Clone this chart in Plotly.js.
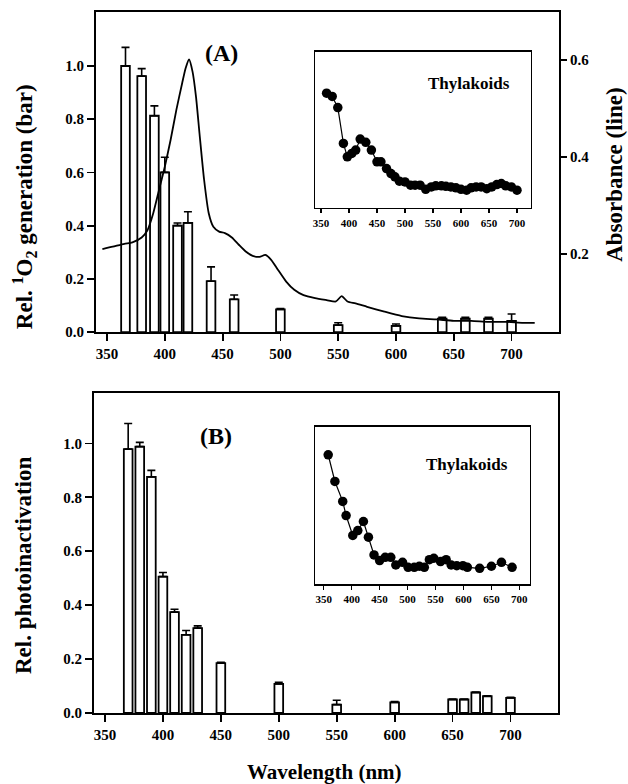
<!DOCTYPE html>
<html>
<head>
<meta charset="utf-8">
<script src="https://cdn.plot.ly/plotly-3.0.1.min.js"></script>
<style>html,body{margin:0;padding:0;background:#fff;}#chart{width:628px;height:784px;}</style>
</head>
<body>
<div id="chart"></div>
<script>
// Panel A: relative 1O2 generation (bars)
const wlA = [366, 380, 391, 400, 411, 420, 440, 460, 500, 550, 600, 640, 660, 680, 700];
const valA = [1.0, 0.962, 0.813, 0.60, 0.40, 0.41, 0.191, 0.123, 0.085, 0.026, 0.023, 0.05, 0.05, 0.05, 0.042];
const errTopA = [1.07, 0.99, 0.85, 0.657, 0.41, 0.452, 0.245, 0.139, 0.088, 0.035, 0.03, 0.055, 0.055, 0.055, 0.068];

// Panel A: absorbance spectrum (line)
const wlAbs = [346, 355, 365, 372, 380, 385, 390, 395, 400, 405, 410, 415, 418, 421, 424, 427, 430, 434, 438, 442, 447, 452, 458, 464, 470, 476, 482, 487, 492, 498, 505, 512, 520, 530, 540, 548, 553, 558, 565, 575, 590, 605, 620, 635, 650, 665, 680, 695, 710, 720];
const absVal = [0.210, 0.215, 0.221, 0.224, 0.234, 0.249, 0.284, 0.332, 0.380, 0.435, 0.497, 0.552, 0.583, 0.601, 0.576, 0.524, 0.449, 0.353, 0.284, 0.256, 0.246, 0.243, 0.234, 0.219, 0.205, 0.196, 0.194, 0.198, 0.188, 0.167, 0.143, 0.126, 0.115, 0.109, 0.105, 0.102, 0.113, 0.102, 0.098, 0.091, 0.081, 0.072, 0.067, 0.065, 0.062, 0.062, 0.060, 0.060, 0.058, 0.058];

// Inset A: Thylakoids
const wlInA = [360, 370, 380, 390, 397, 405, 412, 420, 430, 440, 450, 457, 467, 475, 482, 490, 500, 510, 518, 527, 537, 547, 555, 565, 573, 582, 591, 600, 610, 618, 627, 636, 646, 655, 664, 672, 680, 690, 700];
const valInA = [0.736, 0.715, 0.644, 0.414, 0.328, 0.350, 0.371, 0.442, 0.421, 0.371, 0.296, 0.296, 0.253, 0.221, 0.200, 0.172, 0.167, 0.146, 0.146, 0.146, 0.120, 0.135, 0.142, 0.142, 0.139, 0.135, 0.129, 0.120, 0.114, 0.129, 0.135, 0.135, 0.124, 0.135, 0.150, 0.157, 0.142, 0.135, 0.114];

// Panel B: relative photoinactivation (bars)
const wlB = [370, 380, 390, 400, 410, 420, 430, 450, 500, 550, 600, 650, 660, 670, 680, 700];
const valB = [0.979, 0.988, 0.876, 0.506, 0.374, 0.29, 0.315, 0.185, 0.108, 0.031, 0.039, 0.05, 0.05, 0.076, 0.062, 0.056];
const errTopB = [1.074, 1.004, 0.90, 0.521, 0.385, 0.306, 0.323, 0.188, 0.114, 0.047, 0.042, 0.052, 0.052, 0.078, 0.064, 0.058];

// Inset B: Thylakoids
const wlInB = [358, 370, 384, 390, 402, 411, 421, 430, 440, 450, 460, 470, 479, 491, 501, 512, 521, 530, 539, 547, 559, 569, 578, 588, 599, 607, 629, 650, 668, 687];
const valInB = [0.823, 0.653, 0.526, 0.436, 0.309, 0.340, 0.398, 0.298, 0.185, 0.149, 0.170, 0.170, 0.121, 0.138, 0.106, 0.106, 0.113, 0.106, 0.155, 0.164, 0.143, 0.155, 0.121, 0.117, 0.117, 0.106, 0.100, 0.113, 0.138, 0.106];

const xTicks = [350, 400, 450, 500, 550, 600, 650, 700];
const yTicks = [0, 0.2, 0.4, 0.6, 0.8, 1.0];
const absTicks = [0.2, 0.4, 0.6];

const FAM = 'Liberation Serif, Times New Roman, serif';
const bold = (s) => ({family: FAM, size: s, color: '#000', weight: 'bold'});

const diff = (a, b) => a.map((v, i) => Math.max(0, v - b[i]));

const traces = [
  {type: 'bar', x: wlA, y: valA, width: 7.5, xaxis: 'x', yaxis: 'y',
   marker: {color: '#fff', line: {color: '#000', width: 1.8}},
   error_y: {type: 'data', symmetric: false, array: diff(errTopA, valA), arrayminus: wlA.map(() => 0),
             color: '#000', thickness: 1.6, width: 4},
   showlegend: false},
  {type: 'scatter', mode: 'lines', x: wlAbs, y: absVal, xaxis: 'x', yaxis: 'y2',
   line: {color: '#000', width: 1.8, shape: 'spline', smoothing: 0.6}, showlegend: false},
  {type: 'scatter', mode: 'lines+markers', x: wlInA, y: valInA, xaxis: 'x4', yaxis: 'y4',
   line: {color: '#000', width: 1.2}, marker: {color: '#000', size: 9.5}, showlegend: false},
  {type: 'bar', x: wlB, y: valB, width: 7.5, xaxis: 'x3', yaxis: 'y3',
   marker: {color: '#fff', line: {color: '#000', width: 1.8}},
   error_y: {type: 'data', symmetric: false, array: diff(errTopB, valB), arrayminus: wlB.map(() => 0),
             color: '#000', thickness: 1.6, width: 4},
   showlegend: false},
  {type: 'scatter', mode: 'lines+markers', x: wlInB, y: valInB, xaxis: 'x5', yaxis: 'y5',
   line: {color: '#000', width: 1.2}, marker: {color: '#000', size: 9.5}, showlegend: false}
];

const mainX = (dom, anchor) => ({
  domain: dom, anchor: anchor, range: [340.5, 741], tickvals: xTicks, ticks: 'outside', ticklen: 7,
  tickwidth: 1.8, tickcolor: '#000', showline: true, linecolor: '#000', linewidth: 2, mirror: true,
  showgrid: false, zeroline: false, tickfont: bold(15)
});
const mainY = (dom, anchor, top) => ({
  domain: dom, anchor: anchor, range: [0, top], tickvals: yTicks, tickformat: '.1f', ticks: 'outside', ticklen: 7,
  tickwidth: 1.8, tickcolor: '#000', showline: true, linecolor: '#000', linewidth: 2, mirror: true,
  showgrid: false, zeroline: false, tickfont: bold(15)
});
const insetX = (dom, anchor, rng) => ({
  domain: dom, anchor: anchor, range: rng, tickvals: xTicks, ticks: 'outside', ticklen: 4,
  tickwidth: 1.2, tickcolor: '#000', showline: true, linecolor: '#000', linewidth: 1.5, mirror: true,
  showgrid: false, zeroline: false, tickfont: bold(11)
});
const insetY = (dom, anchor) => ({
  domain: dom, anchor: anchor, range: [0, 1], showticklabels: false, ticks: '',
  showline: true, linecolor: '#000', linewidth: 1.5, mirror: true, showgrid: false, zeroline: false
});

const ann = (text, x, y, size, angle) => ({
  text: text, xref: 'paper', yref: 'paper', x: x, y: y, xanchor: 'center', yanchor: 'middle',
  textangle: angle || 0, showarrow: false, font: bold(size)
});

const layout = {
  width: 628, height: 784,
  margin: {l: 0, r: 0, t: 0, b: 0},
  paper_bgcolor: '#fff', plot_bgcolor: 'rgba(0,0,0,0)',
  showlegend: false,
  bargap: 0,
  xaxis: mainX([0.1529, 0.8901], 'y'),
  yaxis: mainY([0.5765, 0.9847], 'x', 1.203),
  yaxis2: {overlaying: 'y', side: 'right', anchor: 'x', range: [0.039, 0.699], tickvals: absTicks, tickformat: '.1f',
           ticks: 'outside', ticklen: 7, tickwidth: 1.8, tickcolor: '#000', showline: false,
           showgrid: false, zeroline: false, tickfont: bold(15)},
  xaxis3: mainX([0.1497, 0.8885], 'y3'),
  yaxis3: mainY([0.0906, 0.4987], 'x3', 1.187),
  xaxis4: insetX([0.5016, 0.8455], 'y4', [339.3, 725]),
  yaxis4: insetY([0.7347, 0.9337], 'x4'),
  xaxis5: insetX([0.5016, 0.8439], 'y5', [334.4, 719]),
  yaxis5: insetY([0.2551, 0.4554], 'x5'),
  annotations: [
    ann('<b>(A)</b>', 0.3535, 0.9324, 24),
    ann('<b>(B)</b>', 0.3435, 0.4439, 24),
    ann('<b>Thylakoids</b>', 0.7468, 0.8941, 17),
    ann('<b>Thylakoids</b>', 0.7436, 0.4073, 17),
    ann('<b>Rel. <sup>1</sup>O<sub>2</sub> generation (bar)</b>', 0.0382, 0.737, 23, -90),
    ann('<b>Absorbance (line)</b>', 0.979, 0.7768, 23, -90),
    ann('<b>Rel. photoinactivation</b>', 0.0366, 0.2793, 23, -90),
    ann('<b>Wavelength (nm)</b>', 0.5175, 0.0153, 21)
  ]
};

Plotly.newPlot('chart', traces, layout, {staticPlot: true, displayModeBar: false});
</script>
</body>
</html>
